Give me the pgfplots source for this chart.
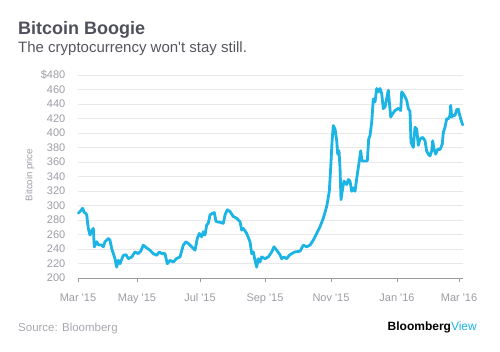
\documentclass[border=0pt]{standalone}
\usepackage{pgfplots}
\pgfplotsset{compat=1.18}
\usepackage{fontspec}
\setmainfont{Liberation Sans}
\definecolor{titlec}{HTML}{50505C}
\definecolor{subc}{HTML}{55555F}
\definecolor{tickc}{HTML}{9C9CA4}
\definecolor{srcc}{HTML}{A8A8B0}
\definecolor{linec}{HTML}{1CB4E4}
\definecolor{gridc}{HTML}{E8E8EA}
\definecolor{axc}{HTML}{9A9AA0}
\newcommand{\q}{\textquotesingle}
\begin{document}
\begin{tikzpicture}[x=1pt,y=1pt]
\useasboundingbox (0,0) rectangle (500,352);
\node[anchor=base west,inner sep=0pt,text=titlec,font=\fontsize{18}{20}\selectfont\bfseries] at (18,317) {Bitcoin Boogie};
\node[anchor=base west,inner sep=0pt,text=subc,font=\fontsize{15}{17}\selectfont] at (18,299.5) {The cryptocurrency won\q t stay still.};
\node[anchor=center,inner sep=0pt,rotate=90,text=tickc,font=\fontsize{9.6}{11}\selectfont] at (30,177) {Bitcoin price};
\node[anchor=base west,inner sep=0pt,text=srcc,font=\fontsize{11.5}{13}\selectfont] at (18,20.5) {Source: Bloomberg};
\node[anchor=base east,inner sep=0pt,font=\fontsize{12}{14}\selectfont] at (477,21) {\textbf{Bloomberg}\textcolor{linec}{View}};
\begin{axis}[
  at={(78pt,74pt)}, anchor=south west,
  scale only axis, width=385pt, height=203pt,
  xmin=78, xmax=463, ymin=200, ymax=480,
  clip=false,
  axis x line*=bottom, axis y line*=left,
  axis line style={-, draw=axc, line width=0.7pt},
  y axis line style={draw=none},
  xtick={78,137,200,265,331,397,459},
  xticklabels={Mar \q15,May \q15,Jul \q15,Sep \q15,Nov \q15,Jan \q16,Mar \q16},
  ytick={200,220,...,480},
  yticklabels={200,220,240,260,280,300,320,340,360,380,400,420,440,460,\$480},
  tick align=outside, xtick pos=bottom,
  major tick length=4pt,
  xtick style={draw=axc, line width=0.7pt},
  ytick style={draw=none},
  xticklabel style={anchor=base, inner sep=0pt, yshift=-20pt, text=tickc, font=\fontsize{11}{13}\selectfont},
  yticklabel style={anchor=east, inner sep=0pt, xshift=-8.5pt, text=tickc, font=\fontsize{11}{13}\selectfont},
  /pgf/number format/assume math mode=true,
  ymajorgrids, grid style={draw=gridc, line width=0.8pt},
]
\addplot[linec, line width=2.8pt, line join=round, line cap=round] coordinates {
(78.3,289.4) (80.7,292.7) (82.7,296.3) (84,290.7) (85.7,289.4) (86.7,287)
(88.3,268.4) (90,259.2) (92,266) (93.3,268.4) (94.3,242.9) (96.7,250)
(98.3,246) (101.7,245.3) (103.3,243) (105,250) (108.3,254.5) (110,252.2)
(111.7,240.5) (115,226.6) (116.7,215) (118.3,224.4) (120,219.6) (123.3,231.3)
(126,232.2) (128.3,226.6) (131.7,229) (135,236) (138.3,233.6) (140.7,236.9)
(143.3,245.3) (146.7,241.5) (150,238.3) (153.3,233.6) (156.7,231.3) (159.3,236)
(161.7,233.6) (165,233.6) (167.3,219.6) (170,224.4) (173.3,222) (176.7,227)
(180,229) (183.3,245.3) (186,250) (188.3,247.6) (191.7,243) (195,238.3)
(197.3,254.5) (199.3,261.5) (201.7,256.8) (203.3,263.8) (205,259.2) (206.7,273.2)
(208.3,275.4) (210,287) (212.7,289.4) (214.3,290.3) (216,277.8) (220,276.8)
(223.3,275.4) (225,287) (227.3,294.1) (230,291.7) (233.3,284.7) (236.7,282.4)
(240,277.8) (241.7,266) (243.3,268.4) (246.7,261.5) (250,250) (251.7,233.6)
(253.3,236) (255,224.4) (256.7,215) (258.3,226.6) (260,222) (261.7,229)
(265,226.6) (268.3,229) (271.7,236) (274,243) (276.7,238.3) (280,232)
(281.7,226.6) (284,229) (286.7,226.6) (289.3,231.3) (291.7,233.6) (295,236)
(300,236.9) (303.3,245.3) (306.7,243) (310,245.3) (313.3,252.2) (316.7,261.5)
(320,270.8) (323.3,282.4) (326.7,298.7) (329.3,319.6) (330.7,352.1) (332,387)
(333.3,410.3) (335,405.6) (336.7,389.3) (337.7,370.8) (339,375.4) (340,352.1)
(341,308) (342.7,324.2) (344,333.6) (346.7,328.9) (348.3,335.9) (350,333.6)
(351.7,319.6) (353.3,324.2) (355,319.6) (357.3,342.9) (359.3,361.4) (360.7,375.4)
(362,361.4) (365,361.4) (367.3,361.4) (368.7,391.7) (370,396.3) (371.7,414.9)
(373.3,447) (375,442.8) (376.7,461.4) (378.3,456.7) (380,461.4) (381.7,454.5)
(383.3,433.6) (385,435.9) (386.7,447.5) (388.3,459) (390.7,422) (392.7,426.6)
(395,431) (398.3,434) (400.7,431) (401.7,456.7) (403,454.5) (405,450)
(406.7,445) (408.3,433.6) (410,430) (411,387) (413.3,380) (415,407.9)
(416.7,405.6) (418.3,383) (420,391.7) (422.7,394) (425,389.3) (426.7,375)
(428.3,370.8) (430,368.4) (431.7,375.4) (432.7,389.3) (434,377.8) (435.7,370.8)
(437.7,377.8) (440,377) (442.3,384.7) (443.3,401) (445,408) (446.7,419.6)
(448.3,419.6) (450,424) (450.7,438.2) (451.7,421.9) (453,424.2) (455,424.2)
(456.7,432.1) (458.3,433) (459.3,426.6) (461.7,414.9) (462.7,411.2)
};
\end{axis}
\end{tikzpicture}
\end{document}
